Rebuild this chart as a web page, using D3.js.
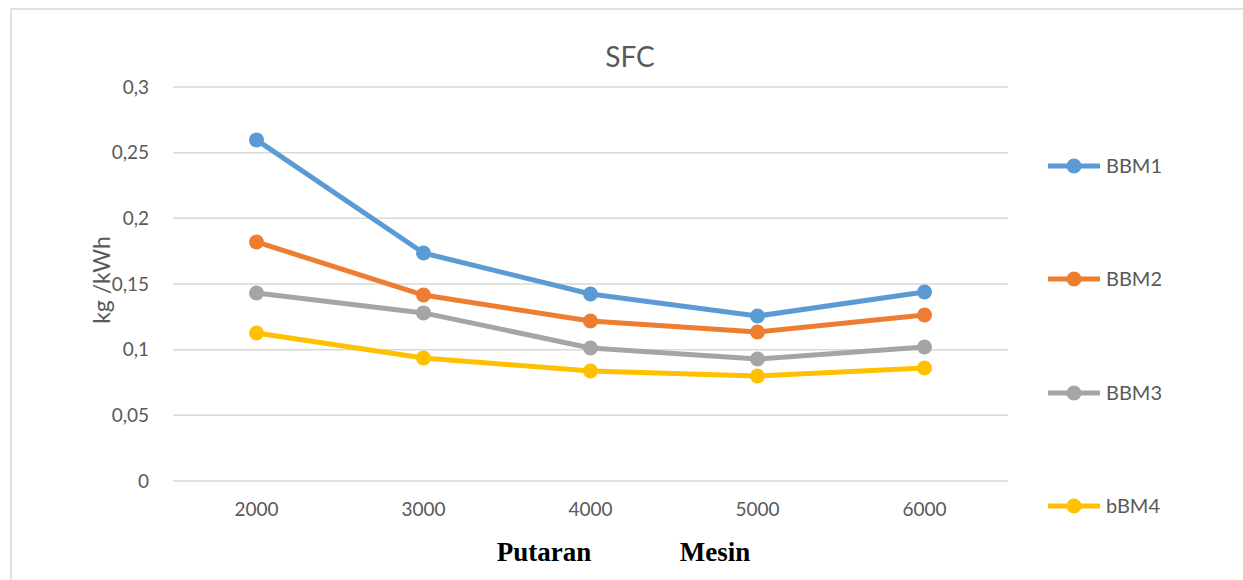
<!DOCTYPE html>
<html><head><meta charset="utf-8">
<script src="https://cdn.jsdelivr.net/npm/d3@7"></script>
<style>body{margin:0;background:#fff}svg{display:block}</style>
</head><body>
<svg id="c" width="1243" height="580"></svg>
<script>
const categories = ["2000","3000","4000","5000","6000"];
const seriesNames = ["BBM1","BBM2","BBM3","bBM4"];
const bbm1 = [0.2597,0.1736,0.1424,0.1256,0.1439];
const bbm2 = [0.182,0.1416,0.1218,0.1135,0.1264];
const bbm3 = [0.1432,0.128,0.1013,0.0929,0.102];
const bbm4 = [0.1127,0.0937,0.0838,0.080,0.086];
const yTicks = [0,0.05,0.1,0.15,0.2,0.25,0.3];
const yTickLabels = ["0","0,05","0,1","0,15","0,2","0,25","0,3"];
const colors = ["#5B9BD5","#ED7D31","#A5A5A5","#FFC000"];
const series = [bbm1,bbm2,bbm3,bbm4];

const svg = d3.select("#c");
const font = "Lato, 'Open Sans', sans-serif";
svg.append("rect").attr("x",11).attr("y",9).attr("width",1250).attr("height",600)
  .attr("fill","#fff").attr("stroke","#D9D9D9").attr("stroke-width",1.5);

const x = d3.scaleBand().domain(categories).range([173,1008]);
const y = d3.scaleLinear().domain([0,0.3]).range([481,87]);

const grid = svg.append("g");
grid.selectAll("line").data(yTicks).join("line")
  .attr("x1",173).attr("x2",1008)
  .attr("y1",d=>y(d)).attr("y2",d=>y(d))
  .attr("stroke","#D9D9D9").attr("stroke-width",1.5);

const yAxis = svg.append("g").attr("transform","translate(173,0)")
  .call(d3.axisLeft(y).tickValues(yTicks).tickFormat((d,i)=>yTickLabels[i]).tickSize(0).tickPadding(24));
yAxis.select(".domain").remove();
yAxis.selectAll("text").attr("font-family",font).attr("font-size",19).attr("fill","#595959");

const xAxis = svg.append("g").attr("transform","translate(0,481)")
  .call(d3.axisBottom(x).tickSize(0).tickPadding(22));
xAxis.select(".domain").remove();
xAxis.selectAll("text").attr("font-family",font).attr("font-size",19).attr("fill","#595959");

svg.append("text").attr("x",630).attr("y",67).attr("text-anchor","middle")
  .attr("font-family",font).attr("font-size",28).attr("fill","#595959").text("SFC");

svg.append("text").attr("transform","translate(110,280) rotate(-90)").attr("text-anchor","middle")
  .attr("font-family",font).attr("font-size",23).attr("fill","#595959").text("kg /kWh");

const xt = svg.append("text").attr("y",561).attr("text-anchor","middle")
  .attr("font-family","'Liberation Serif', serif").attr("font-weight","bold").attr("font-size",27)
  .attr("fill","#000");
xt.append("tspan").attr("x",544).text("Putaran");
xt.append("tspan").attr("x",715).text("Mesin");

const line = d3.line().x((d,i)=>x(categories[i])+x.bandwidth()/2).y(d=>y(d));
series.forEach((s,k)=>{
  const g = svg.append("g");
  g.append("path").datum(s).attr("d",line).attr("fill","none")
    .attr("stroke",colors[k]).attr("stroke-width",5).attr("stroke-linejoin","round");
  g.selectAll("circle").data(s).join("circle")
    .attr("cx",(d,i)=>x(categories[i])+x.bandwidth()/2).attr("cy",d=>y(d)).attr("r",7.5)
    .attr("fill",colors[k]);
});

const legY = [166,279,393,506];
seriesNames.forEach((n,k)=>{
  const g = svg.append("g").attr("transform",`translate(0,${legY[k]})`);
  g.append("line").attr("x1",1048).attr("x2",1100).attr("stroke",colors[k]).attr("stroke-width",5);
  g.append("circle").attr("cx",1074).attr("r",7.5).attr("fill",colors[k]);
  g.append("text").attr("x",1106).attr("y",7).attr("font-family",font).attr("font-size",20)
    .attr("fill","#595959").text(n);
});
</script>
</body></html>
